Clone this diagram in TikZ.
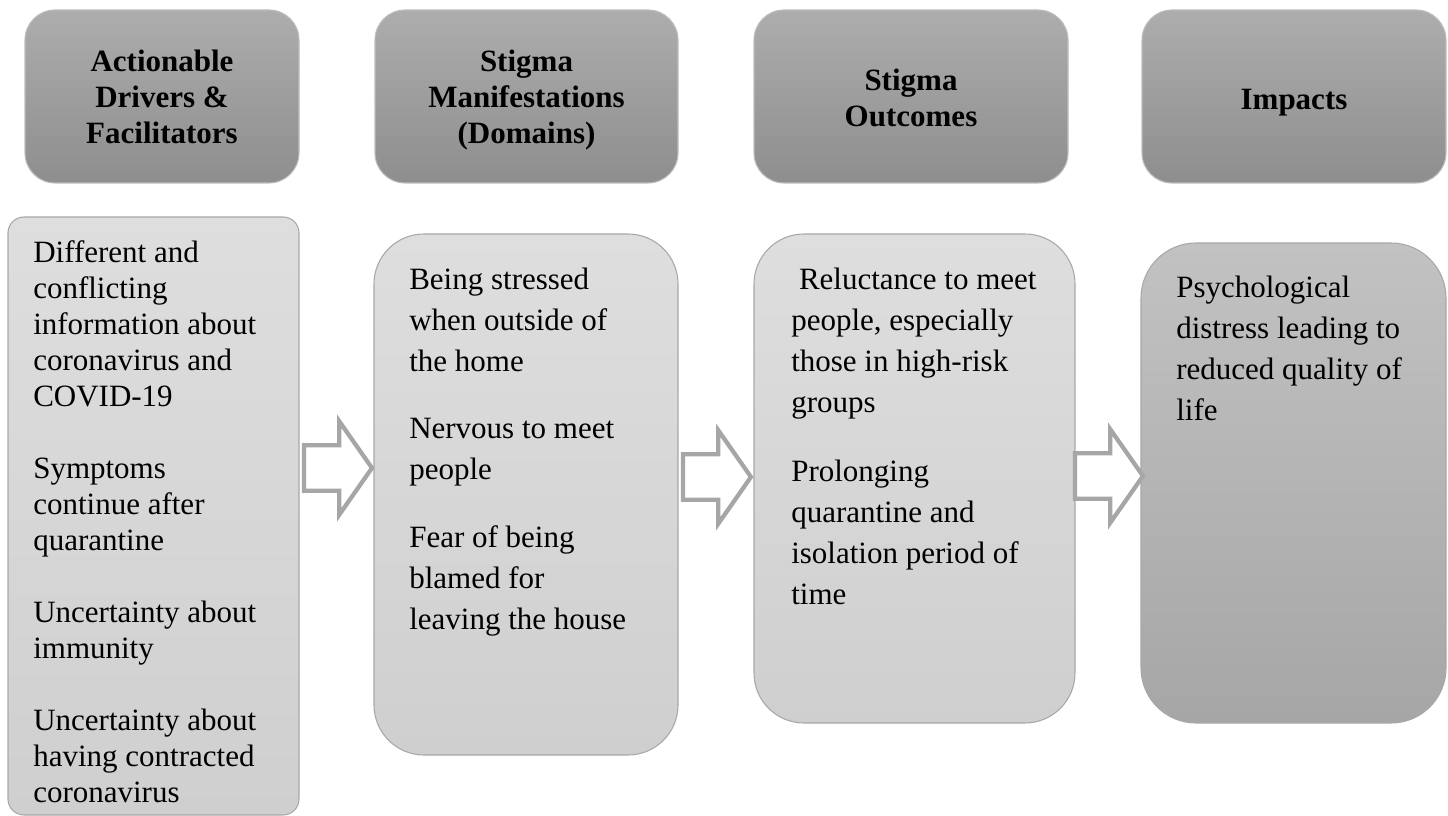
\documentclass[tikz,border=0pt]{standalone}
\usepackage{fontspec}
\setmainfont{Liberation Serif}
\usetikzlibrary{shapes.arrows}
\definecolor{hdtop}{HTML}{ADADAD}
\definecolor{hdbot}{HTML}{8E8E8E}
\definecolor{hdline}{HTML}{BDBDBD}
\definecolor{bxtop}{HTML}{DEDEDE}
\definecolor{bxbot}{HTML}{CFCFCF}
\definecolor{bxline}{HTML}{A8A8A8}
\definecolor{dktop}{HTML}{C2C2C2}
\definecolor{dkbot}{HTML}{A6A6A6}
\definecolor{arline}{HTML}{A6A6A6}
\begin{document}
\begin{tikzpicture}[x=0.75pt,y=-0.75pt,
  header/.style={rectangle, rounded corners=22.5pt, draw=hdline, line width=0.8pt,
    top color=hdtop, bottom color=hdbot, inner sep=0pt, minimum height=129.75pt},
  lightbox/.style={rectangle, draw=bxline, line width=0.8pt,
    top color=bxtop, bottom color=bxbot, inner sep=0pt},
  darkbox/.style={rectangle, draw=bxline, line width=0.8pt,
    top color=dktop, bottom color=dkbot, inner sep=0pt},
  htext/.style={align=center, inner sep=0pt, font=\fontsize{23.25}{27}\selectfont\bfseries},
  bodya/.style={anchor=north west, align=left, inner sep=0pt, font=\fontsize{23.25}{27}\selectfont},
  bodyb/.style={anchor=north west, align=left, inner sep=0pt, font=\fontsize{23.25}{30.75}\selectfont},
  blockarrow/.style={single arrow, draw=arline, fill=white, line width=3.2pt,
    minimum height=51pt, inner xsep=0pt, inner ysep=15.5pt, minimum width=0pt,
    single arrow head extend=18pt, single arrow tip angle=110, line join=miter}
]
\useasboundingbox (0,0) rectangle (1448,816);

% header boxes
\node[header, minimum width=205.5pt] (h1) at (162,96.5) {};
\node[header, minimum width=227.25pt] (h2) at (526.5,96.5) {};
\node[header, minimum width=235.5pt] (h3) at (911,96.5) {};
\node[header, minimum width=228pt] (h4) at (1294,96.5) {};

\node[htext] (h1t) at (162,97) {Actionable\\Drivers \&\\Facilitators};
\node[htext] (h2t) at (526.5,100) {Stigma\\Manifestations\\(Domains)};
\node[htext] (h3t) at (911,98) {Stigma\\Outcomes};
\node[htext, anchor=base] (h4t) at (1294,110) {Impacts};

% content boxes
\node[lightbox, rounded corners=12pt, minimum width=218.25pt, minimum height=448.5pt] (c1) at (153.5,516) {};
\node[lightbox, rounded corners=37.5pt, minimum width=228pt, minimum height=390.75pt] (c2) at (526,494.5) {};
\node[lightbox, rounded corners=37.5pt, minimum width=240.75pt, minimum height=366.75pt] (c3) at (914.5,478.5) {};
\node[darkbox, rounded corners=41.25pt, minimum width=228.75pt, minimum height=360pt] (c4) at (1293.5,483) {};

\node[bodya] (c1t) at (33,235.33) {\rule{0pt}{20pt}Different and\\conflicting\\information about\\coronavirus and\\COVID-19\\[27pt]
Symptoms\\continue after\\quarantine\\[27pt]
Uncertainty about\\immunity\\[27pt]
Uncertainty about\\having contracted\\coronavirus};

\node[bodyb] (c2t) at (409,262.33) {\rule{0pt}{20pt}Being stressed\\when outside of\\the home\\[20pt]
Nervous to meet\\people\\[20pt]
Fear of being\\blamed for\\leaving the house};

\node[bodyb] (c3t) at (791,262.33) {\rule{0pt}{20pt}\ Reluctance to meet\\people, especially\\those in high-risk\\groups\\[21pt]
Prolonging\\quarantine and\\isolation period of\\time};

\node[bodyb] (c4t) at (1176,270.33) {\rule{0pt}{20pt}Psychological\\distress leading to\\reduced quality of\\life};

% block arrows
\node[blockarrow] (a1) at (330,468) {};
\node[blockarrow] (a2) at (709,477) {};
\node[blockarrow] (a3) at (1101,476) {};
\end{tikzpicture}
\end{document}
